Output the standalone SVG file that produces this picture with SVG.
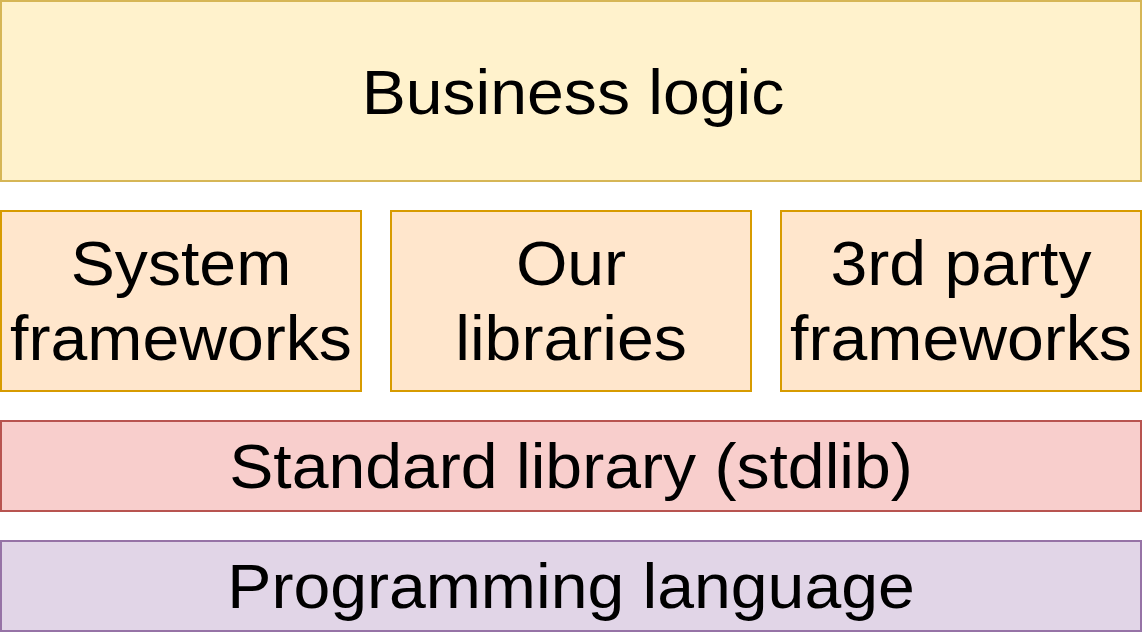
<svg xmlns="http://www.w3.org/2000/svg" width="1143" height="633" viewBox="0 0 1143 633">
<style>
rect{stroke-width:2}
.y{fill:#fff2cc;stroke:#d6b656}
.o{fill:#ffe6cc;stroke:#d79b00}
.r{fill:#f8cecc;stroke:#b85450}
.p{fill:#e1d5e7;stroke:#9673a6}
text{font-family:"Liberation Sans",Arial,Helvetica,sans-serif;font-size:63px;fill:#000;text-anchor:middle}
</style>
<rect width="1143" height="633" fill="#ffffff" style="stroke:none"/>
<g id="business-logic">
<rect class="y" x="1" y="1" width="1140" height="180"/>
<text transform="translate(573 114) scale(1.05 1)">Business logic</text>
</g>
<g id="system-frameworks">
<rect class="o" x="1" y="211" width="360" height="180"/>
<text transform="translate(181 285) scale(1.05 1)">System</text>
<text transform="translate(181 360) scale(1.05 1)">frameworks</text>
</g>
<g id="our-libraries">
<rect class="o" x="391" y="211" width="360" height="180"/>
<text transform="translate(571 285) scale(1.05 1)">Our</text>
<text transform="translate(571 360) scale(1.05 1)">libraries</text>
</g>
<g id="third-party-frameworks">
<rect class="o" x="781" y="211" width="360" height="180"/>
<text transform="translate(961 285) scale(1.05 1)">3rd party</text>
<text transform="translate(961 360) scale(1.05 1)">frameworks</text>
</g>
<g id="standard-library">
<rect class="r" x="1" y="421" width="1140" height="90"/>
<text transform="translate(571 488) scale(1.05 1)">Standard library (stdlib)</text>
</g>
<g id="programming-language">
<rect class="p" x="1" y="541" width="1140" height="90"/>
<text transform="translate(571 608) scale(1.05 1)">Programming language</text>
</g>
<g id="connectors"></g>
</svg>
